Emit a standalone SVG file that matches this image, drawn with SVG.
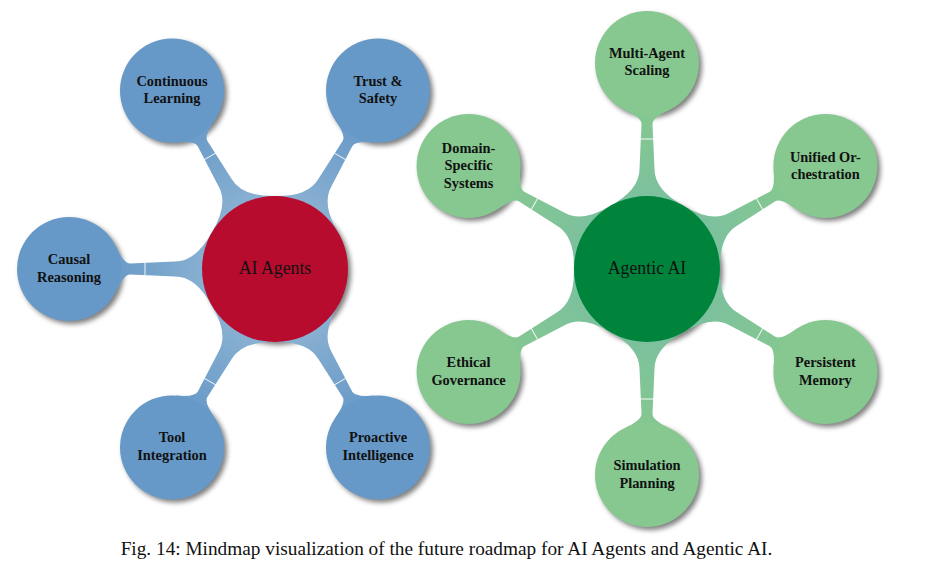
<svg xmlns="http://www.w3.org/2000/svg" width="932" height="570" viewBox="0 0 932 570">
<defs>
<filter id="blur" x="-20%" y="-20%" width="140%" height="140%"><feGaussianBlur stdDeviation="2.6"/></filter>
<linearGradient id="gb" gradientUnits="userSpaceOnUse" x1="73" y1="0" x2="154" y2="0"><stop offset="0" stop-color="#87AFD1"/><stop offset="1" stop-color="#6C9CC9"/></linearGradient>
<linearGradient id="gg" gradientUnits="userSpaceOnUse" x1="73" y1="0" x2="154" y2="0"><stop offset="0" stop-color="#7CC19D"/><stop offset="1" stop-color="#85C791"/></linearGradient>
<path id="conn" d="M 63,-37 Q 79,-7.5 100,-7.5 L 145,-5.5 Q 151.2,-5.5 158.9,-22 L 170,-22 L 170,22 L 158.9,22 Q 151.2,5.5 145,5.5 L 100,7.5 Q 79,7.5 63,37 L 40,34 L 40,-34 Z"/>
</defs>
<style>
.sh{fill:#000;opacity:0.5;filter:url(#blur)}
.blue{fill:#6799C8}
.lgreen{fill:#86C890}
.red{fill:#B80C2E}
.dgreen{fill:#00843C}
.cb{fill:url(#gb)}
.cg{fill:url(#gg)}
.seam{stroke:#fff;stroke-width:1;opacity:0.9}
.t{font-family:"Liberation Serif","Times New Roman",serif;font-weight:bold;font-size:14.4px;fill:#111;text-anchor:middle}
.c{font-family:"Liberation Serif","Times New Roman",serif;font-size:17.8px;fill:#111;text-anchor:middle}
.cap{font-family:"Liberation Serif","Times New Roman",serif;font-size:19.3px;fill:#111;text-anchor:middle}
</style>
<rect width="932" height="570" fill="#fff"/>
<g id="shadows">
<circle class="sh" cx="278" cy="272" r="73"/>
<circle class="sh" cx="650" cy="272" r="73"/>
<circle class="sh" cx="175" cy="93.6" r="52"/>
<circle class="sh" cx="381" cy="93.6" r="52"/>
<circle class="sh" cx="72" cy="272" r="52"/>
<circle class="sh" cx="175" cy="450.4" r="52"/>
<circle class="sh" cx="381" cy="450.4" r="52"/>
<circle class="sh" cx="650" cy="66" r="52"/>
<circle class="sh" cx="828.4" cy="169" r="52"/>
<circle class="sh" cx="828.4" cy="375" r="52"/>
<circle class="sh" cx="650" cy="478" r="52"/>
<circle class="sh" cx="471.6" cy="375" r="52"/>
<circle class="sh" cx="471.6" cy="169" r="52"/>
</g>
<g id="connectors">
<g transform="translate(275,269) rotate(-120)"><use href="#conn" class="cb"/><line class="seam" x1="130" y1="-6.5" x2="130" y2="6.5"/></g>
<g transform="translate(275,269) rotate(-60)"><use href="#conn" class="cb"/><line class="seam" x1="130" y1="-6.5" x2="130" y2="6.5"/></g>
<g transform="translate(275,269) rotate(180)"><use href="#conn" class="cb"/><line class="seam" x1="130" y1="-6.5" x2="130" y2="6.5"/></g>
<g transform="translate(275,269) rotate(120)"><use href="#conn" class="cb"/><line class="seam" x1="130" y1="-6.5" x2="130" y2="6.5"/></g>
<g transform="translate(275,269) rotate(60)"><use href="#conn" class="cb"/><line class="seam" x1="130" y1="-6.5" x2="130" y2="6.5"/></g>
<g transform="translate(647,269) rotate(-90)"><use href="#conn" class="cg"/><line class="seam" x1="130" y1="-6.5" x2="130" y2="6.5"/></g>
<g transform="translate(647,269) rotate(-30)"><use href="#conn" class="cg"/><line class="seam" x1="130" y1="-6.5" x2="130" y2="6.5"/></g>
<g transform="translate(647,269) rotate(30)"><use href="#conn" class="cg"/><line class="seam" x1="130" y1="-6.5" x2="130" y2="6.5"/></g>
<g transform="translate(647,269) rotate(90)"><use href="#conn" class="cg"/><line class="seam" x1="130" y1="-6.5" x2="130" y2="6.5"/></g>
<g transform="translate(647,269) rotate(150)"><use href="#conn" class="cg"/><line class="seam" x1="130" y1="-6.5" x2="130" y2="6.5"/></g>
<g transform="translate(647,269) rotate(-150)"><use href="#conn" class="cg"/><line class="seam" x1="130" y1="-6.5" x2="130" y2="6.5"/></g>
</g>
<g id="ai-agents"><circle class="red" cx="275" cy="269" r="73"/><text class="c" x="275" y="274">AI Agents</text></g>
<g id="continuous-learning"><circle class="blue" cx="172" cy="90.6" r="52"/><text class="t" x="172" y="85.6">Continuous</text><text class="t" x="172" y="103.1">Learning</text></g>
<g id="trust-safety"><circle class="blue" cx="378" cy="90.6" r="52"/><text class="t" x="378" y="85.6">Trust &amp;</text><text class="t" x="378" y="103.1">Safety</text></g>
<g id="causal-reasoning"><circle class="blue" cx="69" cy="269" r="52"/><text class="t" x="69" y="264">Causal</text><text class="t" x="69" y="281.5">Reasoning</text></g>
<g id="tool-integration"><circle class="blue" cx="172" cy="447.4" r="52"/><text class="t" x="172" y="442.4">Tool</text><text class="t" x="172" y="459.9">Integration</text></g>
<g id="proactive-intelligence"><circle class="blue" cx="378" cy="447.4" r="52"/><text class="t" x="378" y="442.4">Proactive</text><text class="t" x="378" y="459.9">Intelligence</text></g>
<g id="agentic-ai"><circle class="dgreen" cx="647" cy="269" r="73"/><text class="c" x="647" y="273.5">Agentic AI</text></g>
<g id="multi-agent-scaling"><circle class="lgreen" cx="647" cy="63" r="52"/><text class="t" x="647" y="57.5">Multi-Agent</text><text class="t" x="647" y="75">Scaling</text></g>
<g id="unified-orchestration"><circle class="lgreen" cx="825.4" cy="166" r="52"/><text class="t" x="825.4" y="161.5">Unified Or-</text><text class="t" x="825.4" y="179">chestration</text></g>
<g id="persistent-memory"><circle class="lgreen" cx="825.4" cy="372" r="52"/><text class="t" x="825.4" y="367">Persistent</text><text class="t" x="825.4" y="384.5">Memory</text></g>
<g id="simulation-planning"><circle class="lgreen" cx="647" cy="475" r="52"/><text class="t" x="647" y="470">Simulation</text><text class="t" x="647" y="487.5">Planning</text></g>
<g id="ethical-governance"><circle class="lgreen" cx="468.6" cy="372" r="52"/><text class="t" x="468.6" y="367">Ethical</text><text class="t" x="468.6" y="384.5">Governance</text></g>
<g id="domain-specific-systems"><circle class="lgreen" cx="468.6" cy="166" r="52"/><text class="t" x="468.6" y="152.5">Domain-</text><text class="t" x="468.6" y="170">Specific</text><text class="t" x="468.6" y="187.5">Systems</text></g>
<text class="cap" x="446.5" y="554.5">Fig. 14: Mindmap visualization of the future roadmap for AI Agents and Agentic AI.</text>
</svg>
